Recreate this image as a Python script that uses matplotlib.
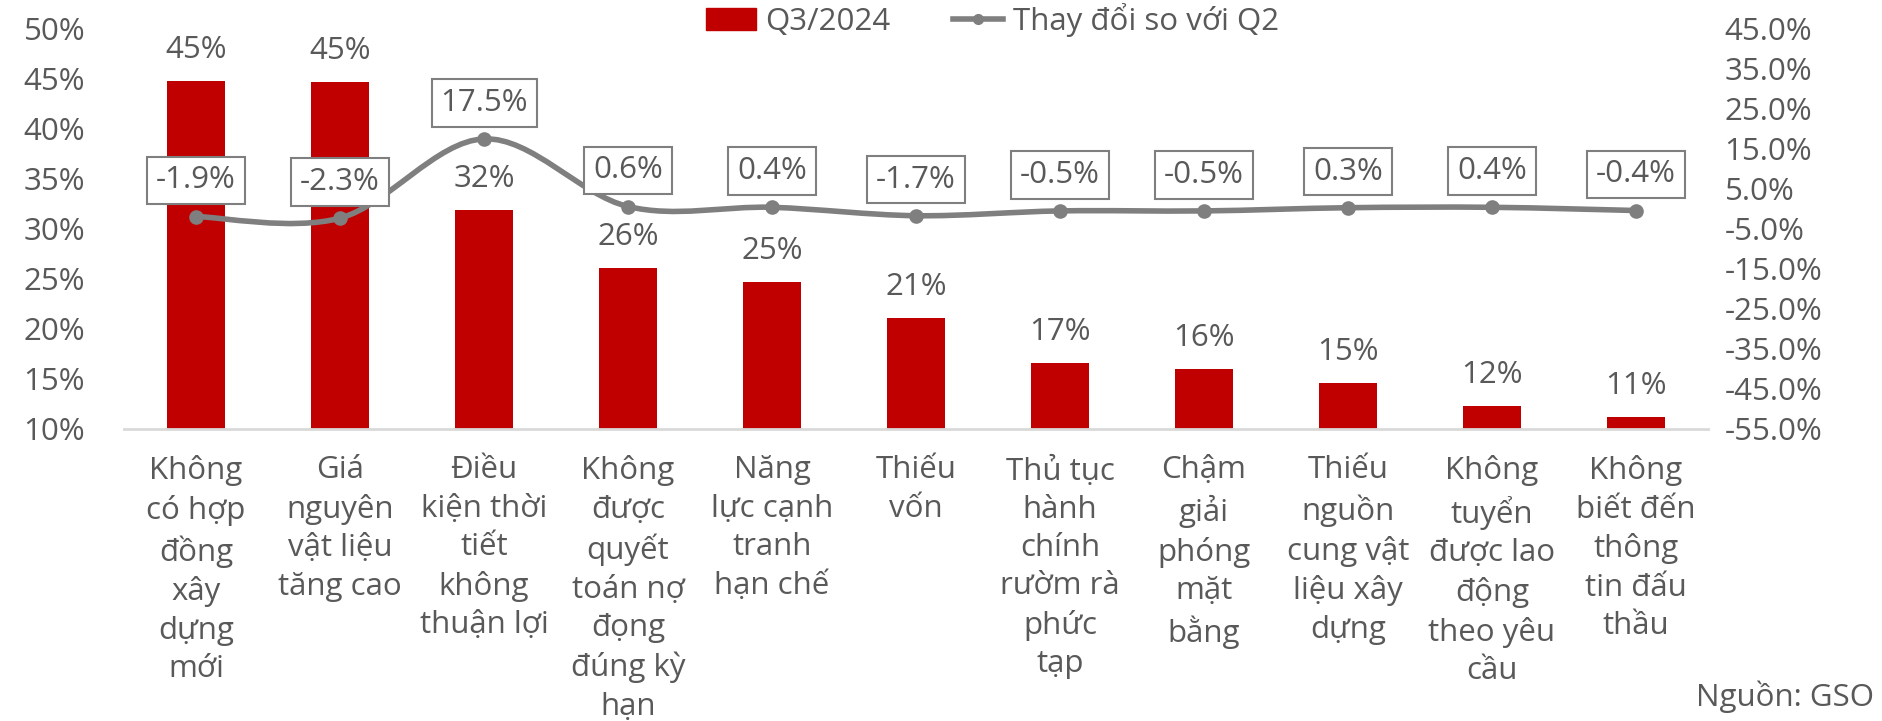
import matplotlib
matplotlib.use("Agg")
from matplotlib import pyplot as plt
from matplotlib.path import Path
from matplotlib.patches import PathPatch
from matplotlib.lines import Line2D
from matplotlib.patches import Patch

categories = [
    "Không\ncó hợp\nđồng\nxây\ndựng\nmới",
    "Giá\nnguyên\nvật liệu\ntăng cao",
    "Điều\nkiện thời\ntiết\nkhông\nthuận lợi",
    "Không\nđược\nquyết\ntoán nợ\nđọng\nđúng kỳ\nhạn",
    "Năng\nlực cạnh\ntranh\nhạn chế",
    "Thiếu\nvốn",
    "Thủ tục\nhành\nchính\nrườm rà\nphức\ntạp",
    "Chậm\ngiải\nphóng\nmặt\nbằng",
    "Thiếu\nnguồn\ncung vật\nliệu xây\ndựng",
    "Không\ntuyển\nđược lao\nđộng\ntheo yêu\ncầu",
    "Không\nbiết đến\nthông\ntin đấu\nthầu",
]
q3_2024 = [44.8, 44.7, 31.9, 26.1, 24.7, 21.1, 16.6, 16.0, 14.6, 12.3, 11.2]
change_q2 = [-1.9, -2.3, 17.5, 0.6, 0.4, -1.7, -0.5, -0.5, 0.3, 0.4, -0.4]
left_ticks = [10, 15, 20, 25, 30, 35, 40, 45, 50]
right_ticks = [-55, -45, -35, -25, -15, -5, 5, 15, 25, 35, 45]

RED = "#C00000"
GREY = "#7F7F7F"
TXT = "#595959"
FS = 22.5
plt.rcParams['font.family'] = ['Open Sans', 'DejaVu Sans']

fig = plt.figure(figsize=(18.83, 7.21), dpi=100)
ax = fig.add_axes([0.0659, 0.405, 0.8411, 0.555])
x = list(range(len(categories)))

ax.bar(x, q3_2024, width=0.4, color=RED, zorder=2)
ax.set_ylim(10, 50)
ax.set_xlim(-0.5, len(categories) - 0.5)
ax.set_yticks(left_ticks)
ax.set_yticklabels([f"{t}%" for t in left_ticks])
ax.set_xticks(x)
ax.set_xticklabels(categories, linespacing=1.36)
ax.tick_params(axis='both', length=0, labelsize=FS, colors=TXT)
ax.tick_params(axis='x', pad=19)
ax.tick_params(axis='y', pad=28)
for s in ['top', 'left', 'right']:
    ax.spines[s].set_visible(False)
ax.spines['bottom'].set_color('#D9D9D9')
ax.spines['bottom'].set_linewidth(2)

for xi, v in zip(x, q3_2024):
    ax.annotate(f"{v:.0f}%", (xi, v), xytext=(0, 22), textcoords='offset points',
                ha='center', va='center', fontsize=FS, color=TXT)

ax2 = ax.twinx()
ax2.set_ylim(-55, 45)
ax2.set_yticks(right_ticks)
ax2.set_yticklabels([f"{t:.1f}%" for t in right_ticks])
ax2.tick_params(axis='y', length=0, labelsize=FS, colors=TXT, pad=12)
for s in ['top', 'left', 'right', 'bottom']:
    ax2.spines[s].set_visible(False)

# smoothed line (bezier through the data points)
pts = list(zip(x, change_q2))
verts = [pts[0]]
codes = [Path.MOVETO]
n = len(pts)
for i in range(n - 1):
    p0 = pts[i - 1] if i > 0 else pts[i]
    p1 = pts[i]
    p2 = pts[i + 1]
    p3 = pts[i + 2] if i + 2 < n else pts[i + 1]
    c1 = (p1[0] + (p2[0] - p0[0]) / 6, p1[1] + (p2[1] - p0[1]) / 6)
    c2 = (p2[0] - (p3[0] - p1[0]) / 6, p2[1] - (p3[1] - p1[1]) / 6)
    verts += [c1, c2, p2]
    codes += [Path.CURVE4] * 3
ax2.add_patch(PathPatch(Path(verts, codes), facecolor='none', edgecolor=GREY,
                        lw=4, zorder=3, capstyle='round'))
ax2.plot(x, change_q2, 'o', color=GREY, markersize=9.5, zorder=4)

for xi, v in zip(x, change_q2):
    ax2.annotate(f"{v:.1f}%", (xi, v), xytext=(0, 26), textcoords='offset points',
                 ha='center', va='center', fontsize=FS, color=TXT, zorder=5,
                 bbox=dict(boxstyle='square,pad=0.28', fc='white', ec=GREY, lw=1.5))

handles = [Patch(color=RED),
           Line2D([0], [0], color=GREY, lw=4, marker='o', markersize=7)]
fig.legend(handles, ["Q3/2024", "Thay đổi so với Q2"], loc='center',
           bbox_to_anchor=(0.527, 0.972), ncol=2, frameon=False, fontsize=FS,
           labelcolor=TXT, handlelength=1.6, handletextpad=0.3, columnspacing=2.0)

fig.text(0.995, 0.033, "Nguồn: GSO", ha='right', va='center', fontsize=FS, color=TXT)

fig.savefig("out.png", dpi=100)
